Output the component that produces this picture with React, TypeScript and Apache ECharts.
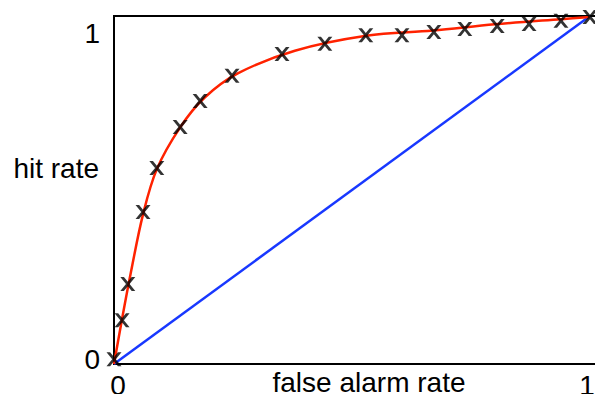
import React, { useEffect, useRef } from 'react';
import * as echarts from 'echarts';

const xTickValues = [0, 1];
const xTickLabels = ['0', '1'];
const yTickValues = [0, 1];
const yTickLabels = ['0', '1'];
const xAxisName = 'false alarm rate';
const yAxisName = 'hit rate';

const markerFA = [0, 0.017, 0.029, 0.061, 0.09, 0.139, 0.181, 0.248, 0.353, 0.443, 0.529, 0.605, 0.672, 0.737, 0.805, 0.872, 0.939, 1.0];
const markerHit = [0.014, 0.126, 0.23, 0.437, 0.563, 0.681, 0.756, 0.828, 0.891, 0.92, 0.945, 0.945, 0.954, 0.963, 0.971, 0.977, 0.986, 0.997];

const curveFA = [0, 0.017, 0.035, 0.061, 0.09, 0.139, 0.19, 0.26, 0.38, 0.53, 0.67, 0.8, 0.94, 1];
const curveHit = [0, 0.13, 0.26, 0.43, 0.56, 0.68, 0.765, 0.835, 0.9, 0.943, 0.958, 0.976, 0.991, 0.997];

const chanceFA = [0, 1];
const chanceHit = [0, 1];

const FONT = '"Liberation Sans", Arial, Helvetica, sans-serif';
const X_SYMBOL = 'path://M0,0 L24,0 L50,34 L76,0 L100,0 L62,50 L100,100 L76,100 L50,66 L24,100 L0,100 L38,50 Z';

export default function App() {
  const ref = useRef<HTMLDivElement>(null);
  useEffect(() => {
    if (!ref.current) return;
    const chart = echarts.init(ref.current, null, { renderer: 'svg' });
    const zip = (a: number[], b: number[]) => a.map((v, i) => [v, b[i]]);
    chart.setOption({
      animation: false,
      backgroundColor: '#ffffff',
      textStyle: { fontFamily: FONT },
      grid: {
        left: 114,
        top: 16,
        width: 485.5,
        height: 348,
        containLabel: false,
        outerBoundsMode: 'none',
        show: true,
        borderColor: '#000',
        borderWidth: 2,
        backgroundColor: 'transparent',
      },
      graphic: [
        {
          type: 'text',
          x: 99,
          y: 168,
          style: {
            text: yAxisName,
            fontFamily: FONT,
            fontSize: 28,
            fill: '#000',
            align: 'right',
            verticalAlign: 'middle',
          },
        },
        {
          type: 'text',
          x: 369,
          y: 382,
          style: {
            text: xAxisName,
            fontFamily: FONT,
            fontSize: 28,
            fill: '#000',
            align: 'center',
            verticalAlign: 'middle',
          },
        },
      ],
      xAxis: {
        type: 'value',
        min: 0,
        max: 1.02,
        interval: 1,
        splitLine: { show: false },
        axisTick: { show: false },
        axisLine: { show: false },
        axisLabel: {
          margin: 7,
          fontFamily: FONT,
          fontSize: 28,
          color: '#000',
          showMaxLabel: false,
          formatter: (v: number) => {
            const i = xTickValues.indexOf(v);
            if (i < 0) return '';
            return i === 0 ? `{a|${xTickLabels[i]}}` : `{b|${xTickLabels[i]}}`;
          },
          rich: {
            a: { fontFamily: FONT, fontSize: 28, color: '#000', padding: [0, 0, 0, 8] },
            b: { fontFamily: FONT, fontSize: 28, color: '#000', padding: [0, 6, 0, 0] },
          },
        },
      },
      yAxis: {
        type: 'value',
        min: 0,
        max: 1,
        interval: 1,
        splitLine: { show: false },
        axisTick: { show: false },
        axisLine: { show: false },
        axisLabel: {
          margin: 14,
          fontFamily: FONT,
          fontSize: 28,
          color: '#000',
          formatter: (v: number) => {
            const i = yTickValues.indexOf(v);
            if (i < 0) return '';
            return i === 0 ? `{a|${yTickLabels[i]}}` : `{b|${yTickLabels[i]}}`;
          },
          rich: {
            a: { fontFamily: FONT, fontSize: 28, color: '#000', padding: [0, 0, 10, 0] },
            b: { fontFamily: FONT, fontSize: 28, color: '#000', padding: [34, 0, 0, 0] },
          },
        },
      },
      series: [
        {
          type: 'line',
          data: zip(chanceFA, chanceHit),
          showSymbol: false,
          lineStyle: { color: '#1838ff', width: 2.5 },
          z: 2,
        },
        {
          type: 'line',
          data: zip(curveFA, curveHit),
          smooth: 0.35,
          showSymbol: false,
          lineStyle: { color: '#ff2200', width: 2.5 },
          z: 3,
        },
        {
          type: 'scatter',
          data: zip(markerFA, markerHit),
          symbol: X_SYMBOL,
          symbolSize: [15, 14],
          itemStyle: { color: '#000' },
          clip: false,
          z: 4,
        },
      ],
    });
    return () => chart.dispose();
  }, []);
  return (
    <div
      ref={ref}
      style={{ position: 'absolute', left: 0, top: 0, width: 595, height: 394 }}
    />
  );
}
